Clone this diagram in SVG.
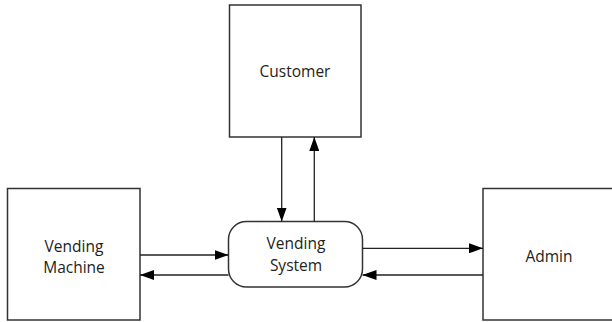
<svg xmlns="http://www.w3.org/2000/svg" width="612" height="322" viewBox="0 0 612 322">
<style>
.box{fill:#fff;stroke:#333;stroke-width:1.5}
.lbl{font-family:"Open Sans","Liberation Sans",sans-serif;font-size:15.5px;fill:#222;text-anchor:middle}
.ln{fill:none;stroke:#222;stroke-width:1.3}
</style>
<defs>
<marker id="ah" viewBox="0 0 14 10" refX="14" refY="5" markerWidth="14" markerHeight="10" markerUnits="userSpaceOnUse" orient="auto">
<path d="M0,0 L14,5 L0,10 z" fill="#000"/>
</marker>
</defs>
<rect width="612" height="322" fill="#fff"/>
<g id="customer">
<rect class="box" x="229.5" y="5" width="131.5" height="132"/>
<text class="lbl" x="295" y="77">Customer</text>
</g>
<g id="vending-system">
<rect class="box" x="228.5" y="221.5" width="134" height="65.5" rx="18" ry="18"/>
<text class="lbl" x="296" y="249">Vending</text>
<text class="lbl" x="296" y="271">System</text>
</g>
<g id="vending-machine">
<rect class="box" x="7.5" y="188.5" width="132.5" height="131.5"/>
<text class="lbl" x="74" y="251.5">Vending</text>
<text class="lbl" x="74" y="272.5">Machine</text>
</g>
<g id="admin">
<rect class="box" x="483" y="188.5" width="132" height="131.5"/>
<text class="lbl" x="549" y="261.5">Admin</text>
</g>
<g id="connectors">
<line class="ln" x1="281.7" y1="137" x2="281.7" y2="221.5" marker-end="url(#ah)"/>
<line class="ln" x1="314.3" y1="221.5" x2="314.3" y2="137" marker-end="url(#ah)"/>
<line class="ln" x1="140" y1="255" x2="228.5" y2="255" marker-end="url(#ah)"/>
<line class="ln" x1="228.5" y1="275" x2="140" y2="275" marker-end="url(#ah)"/>
<line class="ln" x1="362.5" y1="248.3" x2="483" y2="248.3" marker-end="url(#ah)"/>
<line class="ln" x1="483" y1="275" x2="362.5" y2="275" marker-end="url(#ah)"/>
</g>
</svg>
